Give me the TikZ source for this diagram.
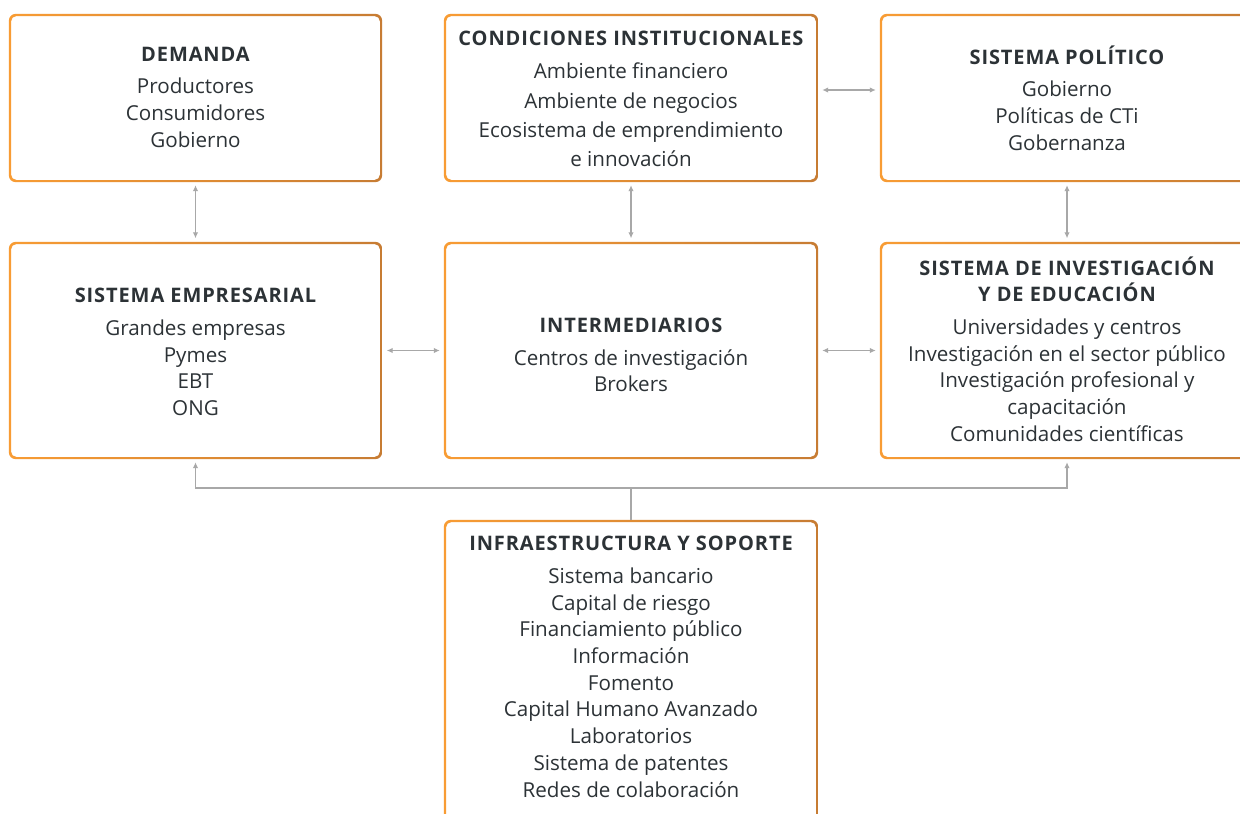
\documentclass[tikz,border=0pt]{standalone}
\usepackage{fontspec}
\setmainfont{Open Sans}
\newfontfamily\ttlfam[LetterSpace=4.5]{Open Sans}
\usetikzlibrary{arrows.meta,calc}
\definecolor{txtc}{HTML}{2C3236}
\definecolor{orL}{HTML}{F89C34}
\definecolor{orR}{HTML}{C77C33}
\definecolor{conc}{HTML}{A8A8A8}
\newcommand{\ttlf}{\ttlfam\fontsize{20}{24}\selectfont\bfseries}
\tikzset{
  boxn/.style={rectangle,inner sep=0pt,minimum width=#1},
  txt/.style={text=txtc,align=center,inner sep=0pt,font=\fontsize{20.6}{26.7}\selectfont},
  conn/.style={draw=conc,line width=1.4pt,{Latex[length=6pt,width=5.5pt]}-{Latex[length=6pt,width=5.5pt]}},
  conn1/.style={draw=conc,line width=1.4pt,-{Latex[length=6pt,width=5.5pt]}}
}
\newcommand{\gradbox}[1]{%
  \shade[left color=orL,right color=orR,even odd rule]
    [rounded corners=7pt] (#1.north west) rectangle (#1.south east)
    [rounded corners=5.5pt] ($(#1.north west)+(2.2pt,-2.2pt)$) rectangle ($(#1.south east)+(-2.2pt,2.2pt)$);}
\begin{document}
\begin{tikzpicture}[x=1pt,y=-1pt]
\useasboundingbox (0,0) rectangle (1240,814);
\fill[white] (0,0) rectangle (1240,814);
% boxes
\node[boxn=373pt,minimum height=168pt] (dem) at (195.5,98) {};
\node[boxn=374pt,minimum height=168pt] (cond) at (631,98) {};
\node[boxn=374pt,minimum height=168pt] (pol) at (1067,98) {};
\node[boxn=373pt,minimum height=217pt] (emp) at (195.5,350.5) {};
\node[boxn=374pt,minimum height=217pt] (inter) at (631,350.5) {};
\node[boxn=374pt,minimum height=217pt] (inv) at (1067,350.5) {};
\node[boxn=374pt,minimum height=400pt] (inf) at (631,720) {};
\gradbox{dem}\gradbox{cond}\gradbox{pol}
\gradbox{emp}\gradbox{inter}\gradbox{inv}\gradbox{inf}
% texts
\node[txt] (demT) at (195.5,97) {{\ttlf DEMANDA}\\[6pt]Productores\\Consumidores\\Gobierno};
\node[txt,font=\fontsize{20.6}{29.3}\selectfont] (condT) at (631,99) {{\ttlf CONDICIONES INSTITUCIONALES}\\[4pt]Ambiente financiero\\Ambiente de negocios\\Ecosistema de emprendimiento\\e innovación};
\node[txt] (polT) at (1067,98) {{\ttlf SISTEMA POLÍTICO}\\[6pt]Gobierno\\Políticas de CTi\\Gobernanza};
\node[txt] (empT) at (195.5,352) {{\ttlf SISTEMA EMPRESARIAL}\\[6pt]Grandes empresas\\Pymes\\EBT\\ONG};
\node[txt] (interT) at (631,355) {{\ttlf INTERMEDIARIOS}\\[6pt]Centros de investigación\\Brokers};
\node[txt] (invT) at (1067,349) {{\ttlf SISTEMA DE INVESTIGACIÓN}\\{\ttlf Y DE EDUCACIÓN}\\[6pt]Universidades y centros\\Investigación en el sector público\\Investigación profesional y\\capacitación\\Comunidades científicas};
\node[txt,anchor=north] (infT) at (631,536) {{\ttlf INFRAESTRUCTURA Y SOPORTE}\\[6pt]Sistema bancario\\Capital de riesgo\\Financiamiento público\\Información\\Fomento\\Capital Humano Avanzado\\Laboratorios\\Sistema de patentes\\Redes de colaboración};
% connectors
\draw[conn,shorten <=3pt,shorten >=3.5pt] (dem.south) -- (emp.north);
\draw[conn,shorten <=3pt,shorten >=3.5pt] (cond.south) -- (inter.north);
\draw[conn,shorten <=3pt,shorten >=3.5pt] (pol.south) -- (inv.north);
\draw[conn,shorten <=4.5pt,shorten >=4pt] (emp.east) -- (inter.west);
\draw[conn,shorten <=4pt,shorten >=4pt] (inter.east) -- (inv.west);
\draw[conn,shorten <=4pt,shorten >=4pt] (cond.east|-0,90) -- (pol.west|-0,90);
\coordinate (jn) at (631,488);
\draw[draw=conc,line width=1.4pt] (inf.north) -- (jn);
\draw[conn1,shorten >=3pt] (jn) -| (emp.south);
\draw[conn1,shorten >=3pt] (jn) -| (inv.south);
\end{tikzpicture}
\end{document}
